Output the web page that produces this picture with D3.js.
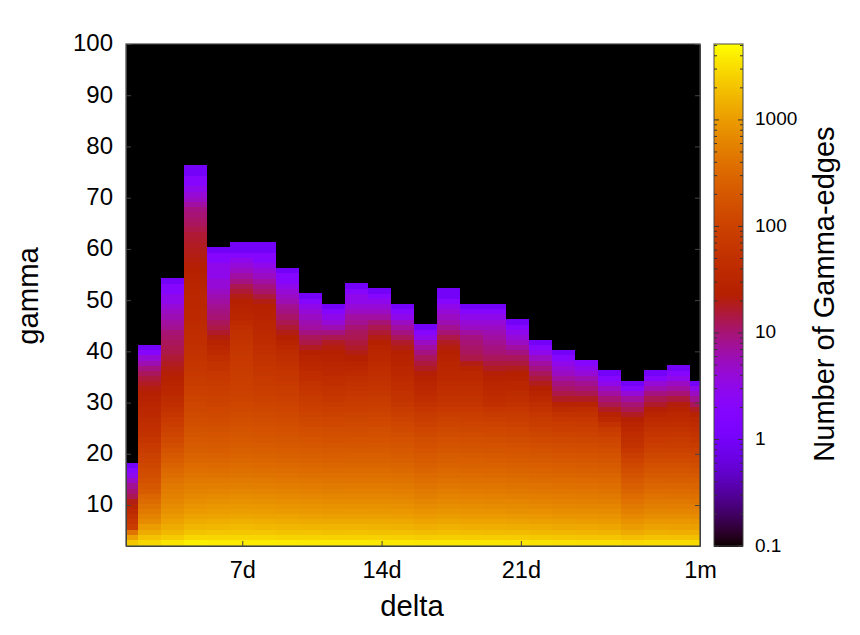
<!DOCTYPE html>
<html>
<head>
<meta charset="utf-8">
<title>Gamma-edges by delta and gamma</title>
<script src="https://cdn.jsdelivr.net/npm/d3@7"></script>
<style>
  html, body { margin: 0; padding: 0; background: #fff; }
  svg { display: block; }
  text { font-family: "Liberation Sans", Arial, sans-serif; fill: #000; }
  .axis path, .axis line { stroke: #444; }
</style>
</head>
<body>
<svg id="chart" width="860" height="635"></svg>
<script>
// Delta bins in seconds; each bin is centred on its value.
const deltaBins = [100000, 200000, 300000, 400000, 500000, 600000, 700000, 800000, 900000,
  1000000, 1100000, 1200000, 1300000, 1400000, 1500000, 1600000, 1700000, 1800000, 1900000,
  2000000, 2100000, 2200000, 2300000, 2400000, 2500000, 2600000];

const firstGamma = 2;

// Edge counts per delta bin, listed from gamma = 2 upward.
const edgeCounts = [
  [4400,2200,1100,420,85,65,50,38,28,20, 13,10,8,5,3,2,1],
  [4000,2800,2000,1350,1000,720,590,490,410,345, 290,225,195,170,150,132,118,105,93,82,
   72,62,55,49,44,40,36,33,30,27, 24,21,18,15,12,9,6,4,2,1],
  [4600,3500,2300,1700,1350,1100,950,820,720,630, 570,520,460,405,355,310,270,235,205,175,
   150,130,112,97,84,73,63,55,47,40, 35,31,28,25,22,20,18,16,14,13, 12,11,10,8,7,6,5,4,3,3, 2,2,1],
  [5160,4100,2800,2050,1650,1350,1120,970,850,750, 670,600,530,470,420,375,335,300,270,245,
   222,202,184,168,154,141,130,120,111,103, 95,88,82,76,71,66,61,57,53,50, 47,44,42,40,38,37,36,35,34,33,
   31,30,28,26,24,22,21,20,19,18, 17,16,14,12,11,10,9,7,5,4, 3,2,2,1,1],
  [5160,3900,2800,2100,1700,1400,1180,1020,900,800, 700,610,530,460,410,365,325,290,260,235,
   215,195,178,162,148,136,125,115,105,97, 90,83,76,70,64,58,52,46,39,32, 26,21,17,14,12,10,9,8,7,6,
   5,4,4,3,3,3,2,2,1],
  [5160,4000,2850,2150,1750,1450,1220,1050,930,820, 720,630,550,480,425,380,340,305,275,250,
   228,208,190,174,160,147,135,124,115,106, 100,95,90,85,80,76,72,69,66,62, 58,54,50,44,38,32,28,26,23,20,
   16,13,9,7,5,4,3,2,1,1],
  [5160,3950,2800,2100,1700,1400,1180,1020,900,800, 700,610,530,465,412,368,330,296,266,240,
   220,200,182,166,152,140,128,118,108,100, 92,85,78,72,66,61,56,52,48,44, 41,38,36,33,31,29,27,25,20,15,
   11,9,7,5,4,3,2,2,1,1],
  [5100,3850,2700,2050,1650,1350,1140,990,870,770, 680,595,520,455,400,355,318,285,256,232,
   210,190,173,158,145,133,122,112,103,95, 87,80,73,67,61,56,50,45,40,34, 28,23,20,16,13,11,9,8,6,5,
   4,3,2,2,1],
  [5050,3800,2650,2000,1600,1320,1110,960,840,740, 650,570,495,435,385,340,305,272,245,220,
   198,178,160,145,131,118,106,95,85,76, 68,60,53,47,42,37,32,28,24,18, 14,12,9,7,6,5,4,3,2,1],
  [5000,3750,2600,1950,1560,1280,1080,930,815,720, 630,550,480,420,372,330,295,263,236,212,
   190,171,154,139,125,112,100,88,77,68, 60,53,47,42,37,33,30,27,24,21, 18,13,9,6,4,3,2,1],
  [5000,3750,2600,1960,1570,1290,1090,940,820,725, 635,555,485,425,376,334,298,266,238,214,
   192,173,156,140,126,114,102,91,80,72, 64,57,51,45,39,33,28,24,20,17, 15,13,12,10,8,7,5,4,3,3, 2,1],
  [4950,3700,2560,1940,1550,1280,1080,930,815,720, 635,555,485,425,378,336,300,268,240,216,
   195,176,159,143,129,116,104,93,83,74, 66,60,55,50,46,42,38,34,31,28, 24,20,16,13,10,7,5,4,3,2, 1],
  [4900,3650,2520,1900,1520,1250,1050,900,790,695, 610,535,468,410,362,320,285,255,228,204,
   183,164,146,130,115,102,90,78,66,58, 52,47,42,38,34,31,29,27,24,20, 17,12,9,7,5,3,2,1],
  [4800,3550,2420,1800,1420,1160,970,830,720,630, 550,480,420,368,325,288,256,228,203,181,
   161,143,127,112,98,86,74,63,52,44, 38,33,30,27,22,18,15,12,9,7, 5,3,2,1],
  [4850,3600,2480,1860,1480,1210,1020,875,765,675, 590,515,450,395,350,310,276,246,220,197,
   176,157,139,123,109,96,84,72,60,53, 48,44,40,37,34,32,30,27,24,21, 18,14,10,8,6,5,4,3,2,1, 1],
  [4800,3550,2430,1820,1440,1180,990,850,740,650, 570,498,435,382,338,300,267,238,212,190,
   170,152,136,121,107,95,84,73,60,54, 49,45,41,37,33,28,20,14,12,11, 10,9,7,5,4,3,2,1],
  [4750,3500,2400,1790,1420,1160,975,835,730,640, 560,490,428,376,332,295,262,233,208,186,
   166,147,130,115,101,88,75,62,49,42, 38,34,30,26,22,18,15,12,10,9, 8,7,6,5,4,3,2,1],
  [4700,3450,2340,1740,1380,1120,945,810,705,620, 540,472,412,362,320,284,252,224,200,178,
   158,140,124,110,97,85,74,64,54,46, 40,35,31,27,23,19,15,12,9,7, 5,4,3,2,1],
  [4600,3350,2250,1680,1330,1080,910,780,680,600, 520,455,398,350,308,272,242,215,190,168,
   148,130,114,100,87,75,65,55,45,36, 28,23,19,15,12,9,7,5,3,2, 1],
  [4500,3250,2170,1620,1280,1040,875,750,655,575, 500,437,382,335,295,260,230,204,180,160,
   140,122,106,92,80,68,54,40,28,18, 14,11,9,7,5,4,3,2,1],
  [4450,3200,2120,1580,1250,1020,855,735,640,560, 490,428,374,328,288,254,224,198,175,155,
   136,118,102,88,76,65,54,42,28,18, 13,10,8,6,4,3,2],
  [4400,3150,2080,1550,1220,990,830,710,620,545, 475,415,362,316,278,244,215,190,168,148,
   130,110,92,75,55,36,26,18,13,10, 7,5,3,2,1],
  [4350,2900,1900,1300,1000,820,680,560,470,400, 340,280,240,205,175,150,125,105,85,68,
   55,48,42,36,30,24,18,13,10,7, 4,2,1],
  [4350,3000,2000,1450,1120,910,750,630,540,465, 400,340,290,250,215,185,160,138,118,100,
   85,72,62,53,45,38,30,22,17,13, 9,6,4,2,1],
  [4300,3000,1980,1440,1100,900,745,625,535,460, 395,340,290,248,212,182,157,135,116,100,
   86,74,63,54,46,39,33,27,21,15, 10,7,5,3,2,1],
  [4200,2950,1950,1400,1080,880,730,610,520,445, 380,325,278,238,204,175,150,128,110,94,
   80,68,58,49,41,34,26,18,12,8, 5,3,1]
];

// Tick positions and labels.
const deltaTickValues = [604800, 1209600, 1814400, 2592000];
const deltaTickLabels = ["7d", "14d", "21d", "1m"];
const gammaTickValues = [10, 20, 30, 40, 50, 60, 70, 80, 90, 100];
const colorTickValues = [0.1, 1, 10, 100, 1000];
const colorTickLabels = ["0.1", "1", "10", "100", "1000"];
const colorMinorValues = [2, 3, 4, 5, 6, 7, 8, 9, 20, 30, 40, 50, 60, 70, 80, 90,
  200, 300, 400, 500, 600, 700, 800, 900, 2000, 3000, 4000, 5000,
  0.2, 0.3, 0.4, 0.5, 0.6, 0.7, 0.8, 0.9];

const plot = { left: 126, right: 700, top: 44, bottom: 546 };
const bar = { left: 714, right: 743 };

const x = d3.scaleLinear().domain([100000, 2592000]).range([plot.left, plot.right]);
const y = d3.scaleLinear().domain([2, 100]).range([plot.bottom, plot.top]);
const level = d3.scaleLog().domain([0.1, 5160]).range([0, 1]).clamp(true);
const barY = d3.scaleLog().domain([0.1, 5160]).range([plot.bottom, plot.top]);

// gnuplot's default pm3d palette: sqrt(t), t^3, sin(2*pi*t).
function palette(t) {
  const r = Math.sqrt(t), g = t * t * t, b = Math.max(0, Math.sin(2 * Math.PI * t));
  return d3.rgb(255 * r, 255 * g, 255 * b).formatRgb();
}

const svg = d3.select("#chart");

svg.append("defs").append("clipPath").attr("id", "plot-clip").append("rect")
  .attr("x", plot.left).attr("y", plot.top)
  .attr("width", plot.right - plot.left).attr("height", plot.bottom - plot.top);

svg.append("rect")
  .attr("x", plot.left).attr("y", plot.top)
  .attr("width", plot.right - plot.left).attr("height", plot.bottom - plot.top)
  .attr("fill", "#000");

const halfBin = 50000;
const cellTop = 0.3, cellBottom = 0.7;   // cell edges around each integer gamma
const cells = deltaBins.flatMap((delta, i) =>
  edgeCounts[i].map((count, j) => ({ delta, gamma: firstGamma + j, count })));

svg.append("g").attr("clip-path", "url(#plot-clip)")
  .attr("shape-rendering", "crispEdges")
  .selectAll("rect").data(cells).join("rect")
  .attr("x", d => x(d.delta - halfBin))
  .attr("width", d => x(d.delta + halfBin) - x(d.delta - halfBin))
  .attr("y", d => y(d.gamma + cellTop))
  .attr("height", d => y(d.gamma - cellBottom) - y(d.gamma + cellTop) + 0.5)
  .attr("fill", d => palette(level(d.count)));

// Axes: ticks point inward, gnuplot style.
const tickLen = 5;
svg.append("g").attr("class", "axis").attr("transform", `translate(0,${plot.bottom})`)
  .call(d3.axisBottom(x).tickValues(deltaTickValues).tickSizeInner(-tickLen).tickSizeOuter(0)
    .tickPadding(15.5).tickFormat((d, i) => deltaTickLabels[i]))
  .call(g => g.selectAll("text").attr("font-size", 23.5).attr("fill", "#000"));

svg.append("g").attr("class", "axis").attr("transform", `translate(${plot.left},0)`)
  .call(d3.axisLeft(y).tickValues(gammaTickValues).tickSizeInner(-tickLen).tickSizeOuter(0)
    .tickPadding(13))
  .call(g => g.selectAll("text").attr("font-size", 24).attr("fill", "#000")
    .attr("dy", "0.29em"));

svg.append("g").attr("class", "axis").attr("transform", `translate(${plot.right},0)`)
  .call(d3.axisRight(y).tickValues(gammaTickValues).tickSizeInner(-tickLen).tickSizeOuter(0)
    .tickFormat(""));

svg.append("rect")
  .attr("x", plot.left).attr("y", plot.top)
  .attr("width", plot.right - plot.left).attr("height", plot.bottom - plot.top)
  .attr("fill", "none").attr("stroke", "#444").attr("stroke-width", 1.2);

// Colour bar, one strip per pixel row.
svg.append("g").attr("shape-rendering", "crispEdges")
  .selectAll("rect").data(d3.range(plot.top, plot.bottom)).join("rect")
  .attr("x", bar.left).attr("width", bar.right - bar.left)
  .attr("y", d => d).attr("height", 1.5)
  .attr("fill", d => palette(level(barY.invert(d + 0.5))));

const barTicks = (values, len, cls) => {
  const g = svg.append("g").attr("class", cls);
  g.selectAll("line.l").data(values).join("line").attr("class", "l")
    .attr("x1", bar.left).attr("x2", bar.left + len)
    .attr("y1", d => barY(d)).attr("y2", d => barY(d));
  g.selectAll("line.r").data(values).join("line").attr("class", "r")
    .attr("x1", bar.right).attr("x2", bar.right - len)
    .attr("y1", d => barY(d)).attr("y2", d => barY(d));
  g.selectAll("line").attr("stroke", "#333").attr("stroke-width", 1);
};
barTicks(colorMinorValues, 3, "minor");
barTicks(colorTickValues, 5, "major");

svg.append("rect")
  .attr("x", bar.left).attr("y", plot.top)
  .attr("width", bar.right - bar.left).attr("height", plot.bottom - plot.top)
  .attr("fill", "none").attr("stroke", "#444").attr("stroke-opacity", 0.8).attr("stroke-width", 1.2);

svg.append("g").selectAll("text").data(colorTickValues).join("text")
  .attr("x", 755).attr("y", d => barY(d) + 5.5)
  .attr("font-size", 19)
  .text((d, i) => colorTickLabels[i]);

// Axis titles.
svg.append("text").attr("x", 412).attr("y", 616).attr("text-anchor", "middle")
  .attr("font-size", 29.3).text("delta");
svg.append("text").attr("transform", "translate(38,296) rotate(-90)").attr("text-anchor", "middle")
  .attr("font-size", 29.3).text("gamma");
svg.append("text").attr("transform", "translate(834,294) rotate(-90)").attr("text-anchor", "middle")
  .attr("font-size", 29).text("Number of Gamma-edges");
</script>
</body>
</html>
